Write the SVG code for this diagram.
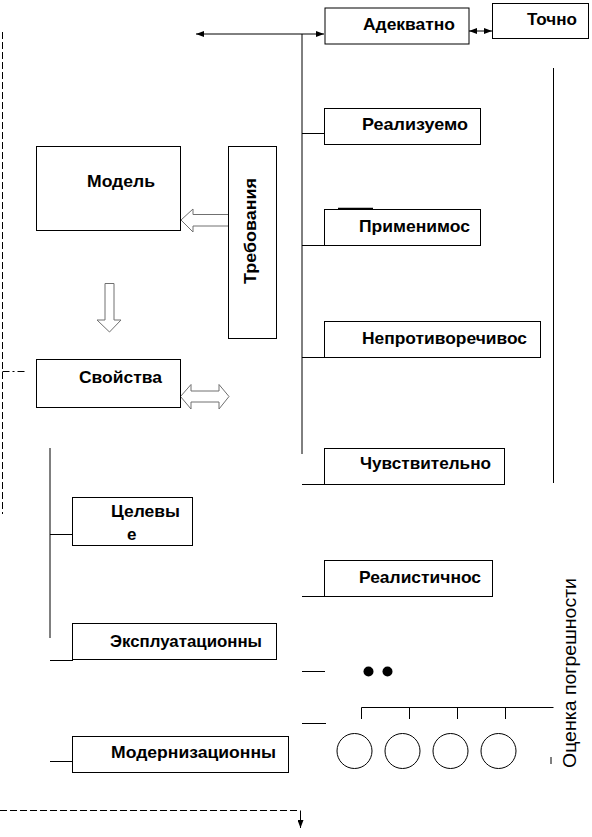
<svg xmlns="http://www.w3.org/2000/svg" width="592" height="837" viewBox="0 0 592 837">
<style>
  .box { fill: #fff; stroke: #000; stroke-width: 1; }
  .ln { stroke: #000; stroke-width: 1; fill: none; }
  .dash { stroke: #000; stroke-width: 1; fill: none; stroke-dasharray: 7 3; }
  .hollow { fill: #fff; stroke: #707070; stroke-width: 1; }
  .t { font-family: "Liberation Sans", Arial, sans-serif; font-weight: bold; font-size: 17px; fill: #000; }
  .tr { font-family: "Liberation Sans", Arial, sans-serif; font-weight: bold; font-size: 17px; fill: #000; }
</style>
<defs>
  <marker id="ah" viewBox="0 0 8 6" refX="8" refY="3" markerWidth="8" markerHeight="6" markerUnits="userSpaceOnUse" orient="auto-start-reverse">
    <path d="M0,0 L8,3 L0,6 Z" fill="#000"/>
  </marker>
</defs>

<g id="connectors">
  <line class="ln" x1="196" y1="34" x2="324" y2="34" marker-start="url(#ah)" marker-end="url(#ah)"/>
  <line class="ln" x1="469" y1="31" x2="492" y2="31" marker-start="url(#ah)" marker-end="url(#ah)"/>
  <line class="ln" x1="302" y1="34" x2="302" y2="454"/>
  <line class="ln" x1="302" y1="133.5" x2="325" y2="133.5"/>
  <line class="ln" x1="302" y1="245.5" x2="325" y2="245.5"/>
  <line class="ln" x1="302" y1="357.5" x2="325" y2="357.5"/>
  <line class="ln" x1="302" y1="484.5" x2="325" y2="484.5"/>
  <line class="ln" x1="302" y1="596.5" x2="325" y2="596.5"/>
  <line class="ln" x1="302" y1="671.5" x2="325" y2="671.5"/>
  <line class="ln" x1="302" y1="723.5" x2="326" y2="723.5"/>
  <line x1="338" y1="208.5" x2="373" y2="208.5" stroke="#000" stroke-width="1.5"/>
  <line class="ln" x1="553.5" y1="68" x2="553.5" y2="483"/>
  <path class="ln" d="M361.5,719 V707.5 H553.5 M409.5,707.5 V719 M457.5,707.5 V719 M505.5,707.5 V719"/>
  <line class="ln" x1="551" y1="757" x2="551" y2="764"/>
  <line class="ln" x1="50" y1="448" x2="50" y2="638"/>
  <line class="ln" x1="50" y1="534.5" x2="73" y2="534.5"/>
  <line class="ln" x1="50" y1="660.5" x2="73" y2="660.5"/>
  <line class="ln" x1="50" y1="761.5" x2="73" y2="761.5"/>
  <line class="dash" x1="2.5" y1="32" x2="2.5" y2="514"/>
  <line x1="2.5" y1="371.5" x2="27" y2="371.5" stroke="#000" stroke-width="1" stroke-dasharray="7 3 2 3"/>
  <line class="dash" x1="0" y1="810.5" x2="300" y2="810.5"/>
  <line class="ln" x1="300.5" y1="810.5" x2="300.5" y2="828" marker-end="url(#ah)"/>
  <polygon class="hollow" points="181,220 193,209 193,214.5 229,214.5 229,226 193,226 193,232"/>
  <polygon class="hollow" points="105,283.5 114,283.5 114,320 121,320 109.5,332 97,320 105,320"/>
  <polygon class="hollow" points="180.5,396.5 191,384.5 191,391 219,391 219,384.5 229,396.5 219,409 219,402 191,402 191,409"/>
</g>

<g id="n-adekvatno"><rect class="box" x="325" y="8" width="144" height="36"/><text class="t" x="363" y="30" textLength="92" lengthAdjust="spacingAndGlyphs">Адекватно</text></g>
<g id="n-tochno"><rect class="box" x="492.5" y="3.5" width="96" height="35"/><text class="t" x="527" y="25" textLength="50" lengthAdjust="spacingAndGlyphs">Точно</text></g>
<g id="n-realizuemo"><rect class="box" x="324.5" y="108.5" width="156" height="36"/><text class="t" x="362" y="130" textLength="106" lengthAdjust="spacingAndGlyphs">Реализуемо</text></g>
<g id="n-primenimos"><rect class="box" x="324.5" y="209.5" width="156" height="36"/><text class="t" x="359" y="232" textLength="111" lengthAdjust="spacingAndGlyphs">Применимос</text></g>
<g id="n-neprot"><rect class="box" x="324.5" y="321.5" width="216" height="36"/><text class="t" x="362" y="344" textLength="165" lengthAdjust="spacingAndGlyphs">Непротиворечивос</text></g>
<g id="n-chuvstv"><rect class="box" x="324.5" y="448.5" width="180" height="36"/><text class="t" x="360" y="469" textLength="131" lengthAdjust="spacingAndGlyphs">Чувствительно</text></g>
<g id="n-realist"><rect class="box" x="324.5" y="560.5" width="168" height="36"/><text class="t" x="359" y="583" textLength="122" lengthAdjust="spacingAndGlyphs">Реалистичнос</text></g>

<g id="n-model"><rect class="box" x="36.5" y="146.5" width="144" height="84"/><text class="t" x="87" y="187" textLength="68" lengthAdjust="spacingAndGlyphs">Модель</text></g>
<g id="n-treb"><rect class="box" x="228.5" y="146.5" width="48" height="192"/><text class="tr" transform="translate(256,284) rotate(-90)" x="0" y="0" textLength="106" lengthAdjust="spacingAndGlyphs">Требования</text></g>
<g id="n-svoistva"><rect class="box" x="36.5" y="359.5" width="144" height="48"/><text class="t" x="79" y="383" textLength="83" lengthAdjust="spacingAndGlyphs">Свойства</text></g>
<g id="n-tselevye"><rect class="box" x="72.5" y="497.5" width="120" height="48"/><text class="t" x="111" y="517" textLength="69" lengthAdjust="spacingAndGlyphs">Целевы</text><text class="t" x="127" y="540">е</text></g>
<g id="n-ekspl"><rect class="box" x="72.5" y="623.5" width="204" height="36"/><text class="t" x="110" y="647" textLength="152" lengthAdjust="spacingAndGlyphs">Эксплуатационны</text></g>
<g id="n-modern"><rect class="box" x="72.5" y="736.5" width="216" height="36"/><text class="t" x="111" y="758" textLength="165" lengthAdjust="spacingAndGlyphs">Модернизационны</text></g>

<g id="n-dots">
  <circle cx="368.5" cy="671.5" r="5" fill="#000"/>
  <circle cx="387.5" cy="671.5" r="5" fill="#000"/>
</g>
<g id="n-circles" fill="#fff" stroke="#000" stroke-width="1">
  <circle cx="354.5" cy="751" r="17.5"/>
  <circle cx="402.5" cy="751" r="17.5"/>
  <circle cx="450.5" cy="751" r="17.5"/>
  <circle cx="498.5" cy="751" r="17.5"/>
</g>
<g id="n-otsenka"><text transform="translate(576,768) rotate(-90)" x="0" y="0" font-family="Liberation Sans, Arial, sans-serif" font-size="18" fill="#000" textLength="190" lengthAdjust="spacingAndGlyphs">Оценка погрешности</text></g>
</svg>
